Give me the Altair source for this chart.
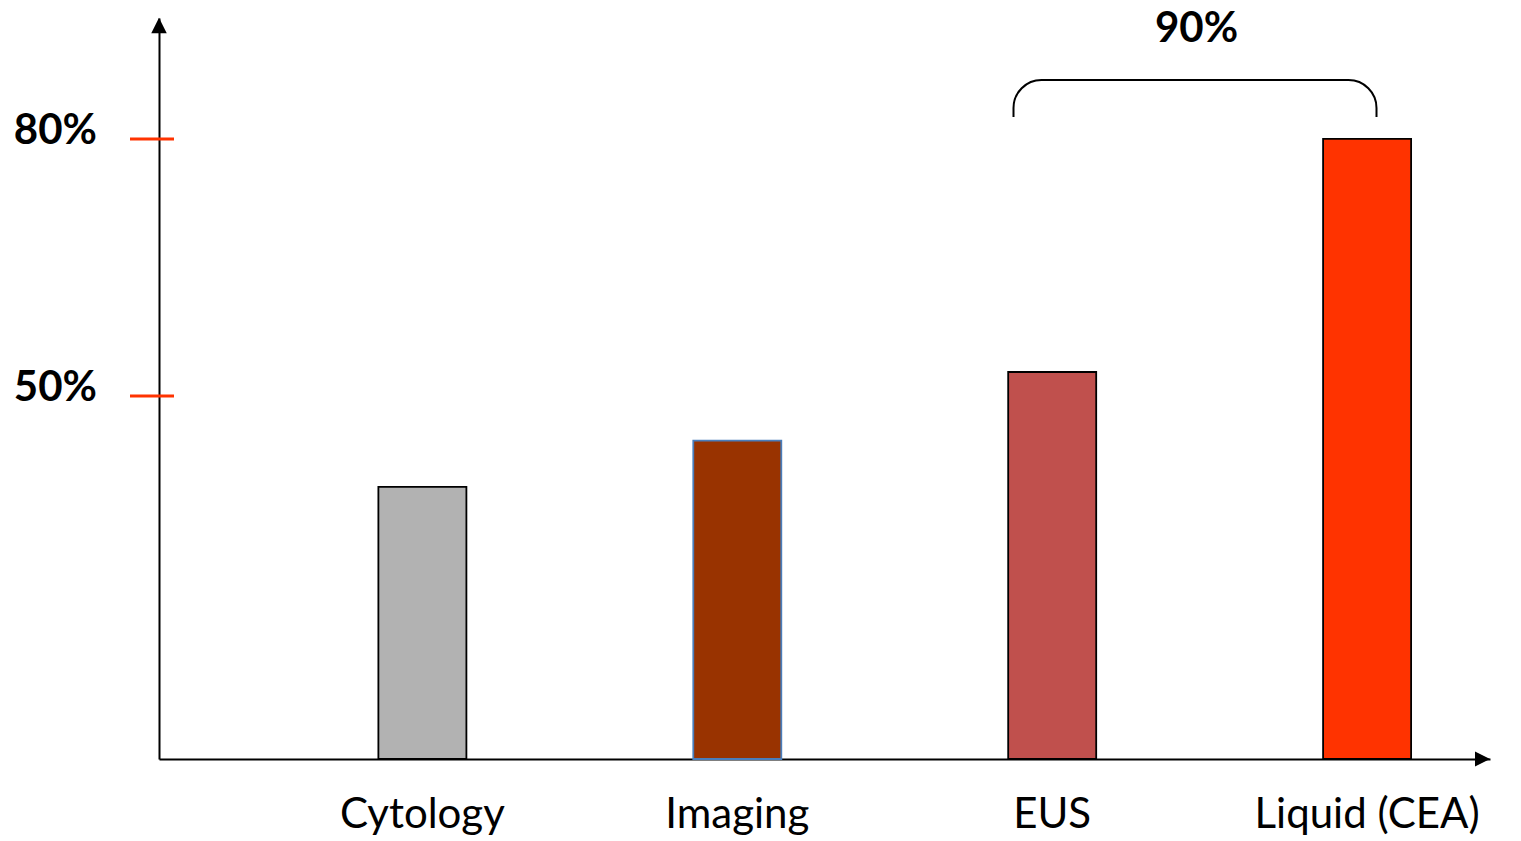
import altair as alt
import pandas as pd

# Detection rate by method
categories = ["Cytology", "Imaging", "EUS", "Liquid (CEA)"]
values = [39.4, 44.8, 52.8, 80.0]
fills = ["#B2B2B2", "#993300", "#C0504D", "#FF3300"]
outlines = ["#000000", "#4A7EBB", "#000000", "#000000"]

# Marked levels on the vertical axis
tick_values = [50, 80]
tick_labels = ["50%", "80%"]

# Combined figure shown over the EUS + Liquid (CEA) bracket
bracket_label = "90%"

W, H = 1331, 741
Y_DOMAIN = [7.63, 94.12]
FONT = "Lato"

bars_df = pd.DataFrame({"method": categories, "value": values})
ticks_df = pd.DataFrame({"value": tick_values, "label": tick_labels})
one_row = pd.DataFrame({"k": [0]})

x_scale = alt.Scale(domain=categories, paddingInner=0.7205, paddingOuter=0.4736,
                    align=0.7355, round=False)
y_scale = alt.Scale(domain=Y_DOMAIN, zero=False, nice=False)

bare_axis = dict(title=None, labels=False, ticks=False, grid=False,
                 domainColor="black", domainWidth=2)

bars = alt.Chart(bars_df).mark_bar(strokeWidth=1.8).encode(
    x=alt.X("method:N", scale=x_scale, sort=categories, axis=alt.Axis(**bare_axis)),
    y=alt.Y("value:Q", scale=y_scale, axis=alt.Axis(**bare_axis), stack=None),
    y2=alt.datum(Y_DOMAIN[0]),
    fill=alt.Fill("method:N", scale=alt.Scale(domain=categories, range=fills), legend=None),
    stroke=alt.Stroke("method:N", scale=alt.Scale(domain=categories, range=outlines), legend=None),
)

cat_labels = alt.Chart(bars_df).mark_text(
    font=FONT, fontSize=42, baseline="alphabetic", align="center", color="black"
).encode(
    x=alt.X("method:N", scale=x_scale, sort=categories),
    y=alt.value(H + 69),
    text="method:N",
)

tick_rules = alt.Chart(ticks_df).mark_rule(color="#FF3300", strokeWidth=3).encode(
    y=alt.Y("value:Q", scale=y_scale),
    x=alt.value(-29),
    x2=alt.value(15),
)

tick_text = alt.Chart(ticks_df).mark_text(
    font=FONT, fontSize=42, fontWeight="bold", align="right",
    baseline="alphabetic", dy=5, color="black"
).encode(
    y=alt.Y("value:Q", scale=y_scale),
    x=alt.value(-62),
    text="label:N",
)

# Arrow heads on both axes
y_arrow = alt.Chart(one_row).mark_point(
    shape="M0,-1L1,1L-1,1Z", filled=True, color="black", opacity=1, size=240
).encode(x=alt.value(0), y=alt.value(7.5))

x_arrow = alt.Chart(one_row).mark_point(
    shape="M1,0L-1,-1L-1,1Z", filled=True, color="black", opacity=1, size=225
).encode(x=alt.value(W - 7.5), y=alt.value(H))

# Rounded bracket spanning EUS and Liquid (CEA)
bracket_path = ("M-1,0.102L-1,0.052C-1,-0.033 -0.931,-0.102 -0.846,-0.102"
                "L0.846,-0.102C0.931,-0.102 1,-0.033 1,0.052L1,0.102")
bracket = alt.Chart(one_row).mark_point(
    shape=bracket_path, filled=False, stroke="black", strokeWidth=2,
    opacity=1, size=363 * 363
).encode(x=alt.value(1036), y=alt.value(80.5))

bracket_text = alt.Chart(one_row).mark_text(
    font=FONT, fontSize=42, fontWeight="bold", align="center",
    baseline="alphabetic", color="black", text=bracket_label
).encode(x=alt.value(1037.5), y=alt.value(24))

chart = alt.layer(
    bars, cat_labels, tick_rules, tick_text, y_arrow, x_arrow, bracket, bracket_text
).properties(
    width=W, height=H,
    padding={"left": 159, "top": 18, "right": 31, "bottom": 82},
    autosize=alt.AutoSizeParams(type="none"),
    background="white",
).configure_view(stroke=None)

chart.save("out.html", embed_options={"renderer": "svg", "actions": False})
